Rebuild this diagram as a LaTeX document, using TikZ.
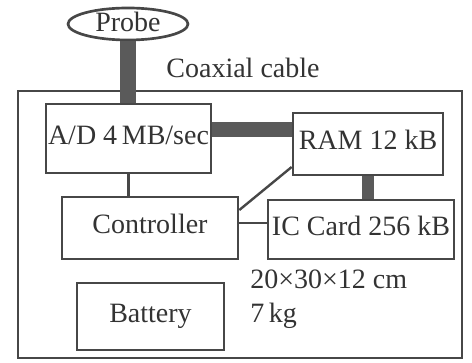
\documentclass[tikz,border=0pt]{standalone}
\usepackage{fontspec}
\setmainfont{Liberation Serif}
\usepackage{tikz}
\usetikzlibrary{positioning,calc,shapes.geometric}
\definecolor{scink}{HTML}{333333}
\definecolor{scline}{HTML}{474747}
\definecolor{scbus}{HTML}{5A5A5A}

\begin{document}
\begin{tikzpicture}[x=0.75pt,y=-0.75pt,font=\fontsize{21}{25}\selectfont,
  bx/.style={draw=scline,line width=2pt,rectangle,inner sep=0pt,text=scink,
    text height=13.5pt,text depth=5pt},
  ln/.style={draw=scline,line width=1.8pt},
  bus/.style={draw=scbus,line width=#1},
  tx/.style={text=scink,inner sep=0pt}]
\useasboundingbox (0,0) rectangle (472,363);
% outer case
\draw[ln] (18,91) rectangle (462,358);
\node[draw=scline,line width=2pt,ellipse,text=scink,inner sep=0pt,
  minimum width=90pt,minimum height=24pt,text height=13.5pt,text depth=2pt] (probe) at (128,24) {Probe};
\node[tx] (coax) at (243,68) {Coaxial cable};
\node[bx,minimum width=123.75pt,minimum height=51.75pt] (ad) at (128.5,138.5) {A/D 4\,MB/sec};
\node[bx,minimum width=112.5pt,minimum height=46.5pt] (ram) at (368,144) {RAM 12 kB};
\node[bx,minimum width=132pt,minimum height=46.5pt] (ctl) at (150,228) {Controller};
\node[bx,minimum width=139.5pt,minimum height=44.25pt] (card) at (361,229.5) {IC Card 256 kB};
\node[bx,minimum width=110.25pt,minimum height=50.25pt] (batt) at (150.5,316.5) {Battery};
\node[tx,anchor=west] (size) at (250,279) {20×30×12 cm};
\node[tx,anchor=west] (mass) at (250,316) {7\,kg};

\coordinate (adr) at ([yshift=6.75pt]ad.east);
\coordinate (ctlr) at ([yshift=13.5pt]ctl.east);
\coordinate (ctlc) at ([yshift=3.75pt]ctl.east);
\coordinate (raml) at ([yshift=-17.25pt]ram.west);
\draw[bus=12pt] (probe.south) -- (probe.south |- ad.north);
\draw[bus=11pt] (adr) -- (adr -| ram.west);
\draw[bus=9pt] (ram.south) -- (ram.south |- card.north);
\draw[ln] (ad.south) -- (ad.south |- ctl.north);
\draw[ln] (ctlr) -- (raml);
\draw[ln] (ctlc) -- (ctlc -| card.west);
\end{tikzpicture}
\end{document}
